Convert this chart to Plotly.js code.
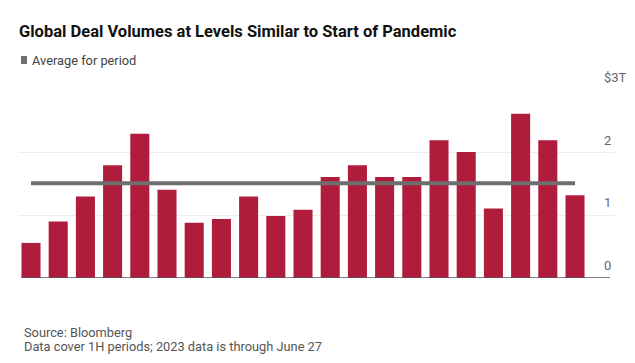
<!DOCTYPE html>
<html>
<head>
<meta charset="utf-8">
<script src="https://cdn.plot.ly/plotly-3.0.1.min.js"></script>
<style>
  html, body { margin: 0; padding: 0; background: #fff; }
  #chart { width: 635px; height: 363px; }
</style>
</head>
<body>
<div id="chart"></div>
<script>
// Data: global deal volumes, 1H periods (trillions USD)
var periods = ["2003","2004","2005","2006","2007","2008","2009","2010","2011","2012","2013",
               "2014","2015","2016","2017","2018","2019","2020","2021","2022","2023"];
var volumes = [0.56, 0.90, 1.30, 1.80, 2.30, 1.41, 0.88, 0.94, 1.30, 0.99, 1.09,
               1.61, 1.80, 1.61, 1.61, 2.20, 2.01, 1.11, 2.62, 2.20, 1.32];
var averageValue = 1.51;
var yTickValues = [0, 1, 2, 3];
var yTickLabels = ["0", "1", "2", "$3T"];

var FONT = "Roboto, 'Noto Sans', sans-serif";
var W = 635, H = 363;
var L = 18, R = 20, T = 90, B = 85;
var PW = W - L - R, PH = H - T - B;
function px(x) { return (x - L) / PW; }
function py(y) { return (H - B - y) / PH; }

var traces = [
  {
    type: "bar",
    x: periods,
    y: volumes,
    marker: { color: "#b01c3c" },
    hoverinfo: "x+y",
    showlegend: false
  },
  {
    type: "scatter",
    mode: "lines",
    x: [periods[0], periods[periods.length - 1]],
    y: [averageValue, averageValue],
    line: { color: "#6e6e6e", width: 4 },
    hoverinfo: "skip",
    showlegend: false
  }
];

var annotations = [
  { xref: "paper", yref: "paper", x: px(30), y: py(60), xanchor: "left", yanchor: "middle",
    text: "Average for period", showarrow: false,
    font: { family: FONT, size: 12.8, color: "#444" } },
  { xref: "paper", yref: "paper", x: px(22), y: py(332), xanchor: "left", yanchor: "middle",
    text: "Source: Bloomberg", showarrow: false,
    font: { family: FONT, size: 12.8, color: "#555" } },
  { xref: "paper", yref: "paper", x: px(22), y: py(346), xanchor: "left", yanchor: "middle",
    text: "Data cover 1H periods; 2023 data is through June 27", showarrow: false,
    font: { family: FONT, size: 12.8, color: "#555" } }
];
yTickValues.forEach(function (v, i) {
  annotations.push({
    xref: "paper", yref: "y", x: px(602), y: v, xanchor: "left", yanchor: "bottom",
    yshift: 3, text: yTickLabels[i], showarrow: false,
    font: { family: FONT, size: 13, color: "#666" }
  });
});

var layout = {
  width: W, height: H,
  margin: { l: L, r: R, t: T, b: B, pad: 0 },
  paper_bgcolor: "#fff",
  plot_bgcolor: "#fff",
  title: {
    text: "<b>Global Deal Volumes at Levels Similar to Start of Pandemic</b>",
    xref: "container", yref: "container",
    x: 19 / W, xanchor: "left",
    y: 1 - 31 / H, yanchor: "middle",
    font: { family: FONT, size: 16.5, color: "#111" }
  },
  bargap: 0.3,
  xaxis: {
    type: "category",
    range: [-0.478, 21.47],
    showticklabels: false,
    showgrid: false,
    zeroline: false,
    showline: false,
    ticks: ""
  },
  yaxis: {
    range: [0, 3],
    tickvals: yTickValues,
    showticklabels: false,
    showgrid: true,
    gridcolor: "#ececec",
    gridwidth: 1,
    zeroline: false,
    showline: false,
    ticks: "",
    fixedrange: true
  },
  shapes: [
    { type: "rect", xref: "paper", yref: "paper",
      x0: px(21), x1: px(27), y0: py(64), y1: py(56),
      fillcolor: "#6e6e6e", line: { width: 0 } },
    { type: "line", xref: "paper", yref: "y",
      x0: px(21), x1: px(610), y0: 0, y1: 0,
      line: { color: "#555", width: 1.5 }, layer: "above" }
  ],
  annotations: annotations
};

Plotly.newPlot("chart", traces, layout, { displayModeBar: false, staticPlot: true });
</script>
</body>
</html>
